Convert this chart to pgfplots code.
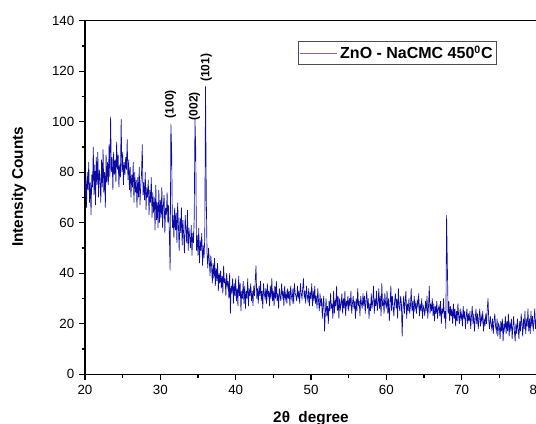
\documentclass[border=0pt]{standalone}
\usepackage{fontspec}
\setmainfont{Liberation Sans}
\usepackage{pgfplots}
\pgfplotsset{compat=1.18}
\definecolor{xrdblue}{RGB}{12,12,165}
\definecolor{legblue}{RGB}{110,110,225}

% XRD scan, 0.1 deg steps (one row per degree)
\pgfplotstableread{
x y
20.0 70
20.1 78
20.2 66
20.3 80
20.4 73
20.5 84
20.6 68
20.7 76
20.8 63
20.9 79
21.0 74
21.1 90
21.2 71
21.3 83
21.4 67
21.5 86
21.6 75
21.7 88
21.8 70
21.9 81
22.0 77
22.1 68
22.2 85
22.3 74
22.4 89
22.5 72
22.6 80
22.7 66
22.8 87
22.9 76
23.0 84
23.1 75
23.2 91
23.3 78
23.4 102
23.5 80
23.6 86
23.7 73
23.8 88
23.9 79
24.0 85
24.1 76
24.2 92
24.3 81
24.4 87
24.5 74
24.6 83
24.7 78
24.8 101
24.9 80
25.0 88
25.1 75
25.2 84
25.3 79
25.4 86
25.5 81
25.6 93
25.7 77
25.8 85
25.9 73
26.0 82
26.1 70
26.2 79
26.3 74
26.4 84
26.5 68
26.6 80
26.7 72
26.8 77
26.9 66
27.0 78
27.1 70
27.2 82
27.3 67
27.4 75
27.5 79
27.6 91
27.7 71
27.8 76
27.9 69
28.0 80
28.1 65
28.2 74
28.3 70
28.4 77
28.5 63
28.6 73
28.7 68
28.8 78
28.9 62
29.0 72
29.1 64
29.2 70
29.3 57
29.4 75
29.5 61
29.6 68
29.7 58
29.8 73
29.9 60
30.0 69
30.1 62
30.2 74
30.3 58
30.4 67
30.5 71
30.6 56
30.7 66
30.8 63
30.9 72
31.0 60
31.1 67
31.2 55
31.3 41
31.4 99
31.5 89
31.6 58
31.7 63
31.8 54
31.9 66
32.0 57
32.1 64
32.2 52
32.3 68
32.4 59
32.5 49
32.6 62
32.7 56
32.8 66
32.9 51
33.0 61
33.1 55
33.2 48
33.3 63
33.4 57
33.5 52
33.6 65
33.7 49
33.8 58
33.9 54
34.0 50
34.1 59
34.2 47
34.3 56
34.4 52
34.5 62
34.6 101
34.7 89
34.8 49
34.9 55
35.0 47
35.1 58
35.2 44
35.3 53
35.4 49
35.5 56
35.6 43
35.7 51
35.8 46
35.9 54
36.0 114
36.1 70
36.2 48
36.3 42
36.4 50
36.5 45
36.6 39
36.7 47
36.8 43
36.9 36
37.0 44
37.1 38
37.2 46
37.3 35
37.4 42
37.5 37
37.6 44
37.7 33
37.8 40
37.9 36
38.0 41
38.1 34
38.2 39
38.3 32
38.4 43
38.5 36
38.6 38
38.7 31
38.8 40
38.9 35
39.0 37
39.1 30
39.2 40
39.3 24
39.4 35
39.5 33
39.6 38
39.7 28
39.8 36
39.9 31
40.0 38
40.1 29
40.2 34
40.3 27
40.4 39
40.5 31
40.6 36
40.7 25
40.8 33
40.9 30
41.0 37
41.1 28
41.2 35
41.3 26
41.4 33
41.5 30
41.6 38
41.7 27
41.8 34
41.9 31
42.0 36
42.1 29
42.2 33
42.3 27
42.4 35
42.5 31
42.6 37
42.7 43
42.8 30
42.9 34
43.0 28
43.1 35
43.2 31
43.3 37
43.4 29
43.5 33
43.6 26
43.7 36
43.8 32
43.9 30
44.0 34
44.1 28
44.2 36
44.3 31
44.4 33
44.5 27
44.6 35
44.7 30
44.8 38
44.9 29
45.0 33
45.1 27
45.2 35
45.3 30
45.4 37
45.5 29
45.6 32
45.7 26
45.8 34
45.9 31
46.0 29
46.1 36
46.2 31
46.3 33
46.4 27
46.5 35
46.6 30
46.7 32
46.8 28
46.9 34
47.0 30
47.1 33
47.2 27
47.3 35
47.4 31
47.5 29
47.6 34
47.7 28
47.8 36
47.9 32
48.0 31
48.1 29
48.2 35
48.3 30
48.4 33
48.5 28
48.6 36
48.7 32
48.8 30
48.9 34
49.0 38
49.1 30
49.2 33
49.3 28
49.4 35
49.5 31
49.6 29
49.7 34
49.8 27
49.9 32
50.0 30
50.1 36
50.2 27
50.3 33
50.4 29
50.5 35
50.6 28
50.7 31
50.8 26
50.9 34
51.0 29
51.1 25
51.2 32
51.3 27
51.4 30
51.5 22
51.6 28
51.7 31
51.8 17
51.9 24
52.0 30
52.1 23
52.2 27
52.3 20
52.4 29
52.5 25
52.6 32
52.7 26
52.8 28
52.9 22
53.0 33
53.1 24
53.2 29
53.3 27
53.4 35
53.5 25
53.6 31
53.7 22
53.8 30
53.9 26
54.0 28
54.1 32
54.2 24
54.3 30
54.4 26
54.5 33
54.6 23
54.7 29
54.8 27
54.9 31
55.0 25
55.1 30
55.2 27
55.3 33
55.4 24
55.5 28
55.6 31
55.7 26
55.8 29
55.9 22
56.0 30
56.1 25
56.2 34
56.3 27
56.4 29
56.5 23
56.6 31
56.7 28
56.8 26
56.9 32
57.0 27
57.1 31
57.2 24
57.3 29
57.4 33
57.5 26
57.6 30
57.7 22
57.8 28
57.9 25
58.0 32
58.1 26
58.2 29
58.3 35
58.4 24
58.5 30
58.6 27
58.7 33
58.8 25
58.9 28
59.0 34
59.1 26
59.2 31
59.3 23
59.4 36
59.5 27
59.6 29
59.7 24
59.8 32
59.9 28
60.0 26
60.1 33
60.2 24
60.3 30
60.4 21
60.5 28
60.6 35
60.7 25
60.8 31
60.9 27
61.0 23
61.1 29
61.2 32
61.3 26
61.4 30
61.5 22
61.6 34
61.7 27
61.8 25
61.9 31
62.0 28
62.1 15
62.2 26
62.3 31
62.4 24
62.5 29
62.6 33
62.7 22
62.8 28
62.9 25
63.0 30
63.1 24
63.2 27
63.3 34
63.4 25
63.5 29
63.6 22
63.7 31
63.8 26
63.9 28
64.0 24
64.1 29
64.2 27
64.3 32
64.4 23
64.5 28
64.6 25
64.7 30
64.8 22
64.9 27
65.0 26
65.1 23
65.2 29
65.3 25
65.4 31
65.5 22
65.6 27
65.7 35
65.8 24
65.9 28
66.0 25
66.1 30
66.2 23
66.3 28
66.4 21
66.5 27
66.6 24
66.7 29
66.8 22
66.9 26
67.0 27
67.1 23
67.2 29
67.3 20
67.4 26
67.5 24
67.6 30
67.7 22
67.8 25
67.9 18
68.0 63
68.1 43
68.2 24
68.3 29
68.4 21
68.5 27
68.6 23
68.7 26
68.8 20
68.9 28
69.0 22
69.1 26
69.2 19
69.3 25
69.4 21
69.5 28
69.6 23
69.7 20
69.8 26
69.9 22
70.0 24
70.1 19
70.2 27
70.3 22
70.4 25
70.5 18
70.6 23
70.7 26
70.8 20
70.9 24
71.0 21
71.1 25
71.2 18
71.3 23
71.4 27
71.5 20
71.6 24
71.7 17
71.8 22
71.9 26
72.0 20
72.1 24
72.2 18
72.3 22
72.4 26
72.5 19
72.6 23
72.7 21
72.8 25
72.9 17
73.0 22
73.1 19
73.2 24
73.3 20
73.4 26
73.5 30
73.6 21
73.7 18
73.8 23
73.9 20
74.0 18
74.1 22
74.2 16
74.3 21
74.4 24
74.5 19
74.6 17
74.7 22
74.8 15
74.9 20
75.0 19
75.1 14
75.2 21
75.3 17
75.4 22
75.5 13
75.6 20
75.7 18
75.8 23
75.9 16
76.0 21
76.1 17
76.2 24
76.3 15
76.4 20
76.5 18
76.6 22
76.7 14
76.8 19
76.9 23
77.0 17
77.1 13
77.2 20
77.3 16
77.4 22
77.5 18
77.6 14
77.7 21
77.8 17
77.9 24
78.0 20
78.1 15
78.2 22
78.3 18
78.4 25
78.5 16
78.6 21
78.7 19
78.8 26
78.9 17
79.0 22
79.1 16
79.2 25
79.3 19
79.4 23
79.5 17
79.6 21
79.7 26
79.8 18
79.9 22
80.0 17
}\xrd

\begin{document}
\begin{tikzpicture}
\begin{axis}[
  name=ax, scale only axis,
  width=339pt, height=265.2pt,
  xmin=20, xmax=80, ymin=0, ymax=140,
  xtick={20,30,...,80}, ytick={0,20,...,140},
  minor x tick num=1, minor y tick num=1,
  tick align=outside, xtick pos=bottom, ytick pos=left,
  major tick length=4.5pt, minor tick length=2.5pt,
  axis line style={line width=1.1pt},
  tick style={line width=0.9pt, black},
  ticklabel style={font=\fontsize{10}{12}\selectfont},
  /pgf/number format/assume math mode=true,
  xlabel={2θ\hspace{0.55em}degree}, ylabel={Intensity Counts},
  label style={font=\bfseries\fontsize{11.5}{13}\selectfont},
  xlabel style={at={(axis description cs:0.5,0)}, anchor=north, yshift=-24pt},
  ylabel style={at={(axis description cs:-0.12,0.53)}, anchor=south},
  legend style={at={(axis description cs:0.9115,0.942)}, anchor=north east,
    draw=black!70, line width=0.6pt, inner sep=1pt,
    font=\bfseries\fontsize{12}{14}\selectfont},
  legend image code/.code={\draw[legblue, line width=0.7pt] (0pt,0pt) -- (28pt,0pt);},
]
\addplot[xrdblue, line width=0.5pt] table[x=x, y=y] {\xrd};
\addlegendentry{ZnO - NaCMC 450\textsuperscript{0}C}

% peak indices
\node[rotate=90, anchor=west, inner sep=0pt, font=\bfseries\fontsize{9}{10}\selectfont]
  at (axis cs:31.35,101.3) {(100)};
\node[rotate=90, anchor=west, inner sep=0pt, font=\bfseries\fontsize{9}{10}\selectfont]
  at (axis cs:34.55,100.5) {(002)};
\node[rotate=90, anchor=west, inner sep=0pt, font=\bfseries\fontsize{9}{10}\selectfont]
  at (axis cs:36.1,115.7) {(101)};
\end{axis}
\pgfresetboundingbox
\path[use as bounding box] ([shift={(-63.75pt,-36.75pt)}]ax.south west)
  rectangle ([shift={(-0.75pt,15.5pt)}]ax.north east);
\end{tikzpicture}
\end{document}
